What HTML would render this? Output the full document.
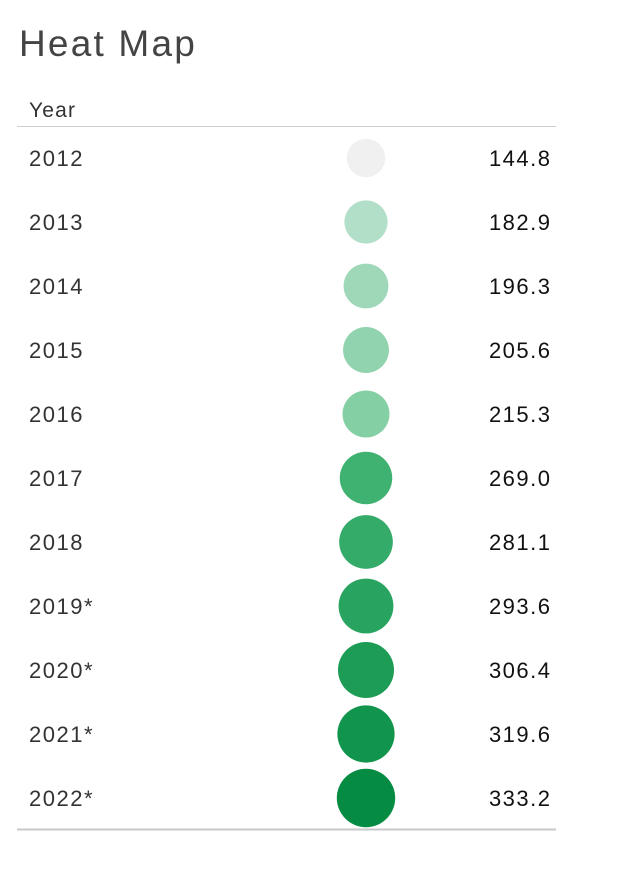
<!DOCTYPE html>
<html><head><meta charset="utf-8"><style>
html,body{margin:0;padding:0;background:#fff;width:644px;height:878px;overflow:hidden;font-family:"Liberation Sans",sans-serif;}
</style></head><body>
<svg width="644" height="878">
<text x="19" y="56" font-size="37" font-weight="300" fill="#444" font-family="Liberation Sans, sans-serif" style="letter-spacing:2.2px">Heat Map</text>
<text x="29" y="117" font-size="21" fill="#333" style="letter-spacing:1.2px">Year</text>
<line x1="17" x2="556" y1="126.5" y2="126.5" stroke="#cfcfcf" stroke-width="1"/>
<g id="rows"></g>
<line x1="17" x2="556" y1="829.5" y2="829.5" stroke="#c8c8c8" stroke-width="2"/>
</svg>
<script>
const years = ["2012","2013","2014","2015","2016","2017","2018","2019*","2020*","2021*","2022*"];
const values = [144.8,182.9,196.3,205.6,215.3,269.0,281.1,293.6,306.4,319.6,333.2];

const rowY = i => 158 + i*64;
const radius = v => 1.6*Math.sqrt(v);
const stops = [[0,[240,240,240]],[0.2,[179,223,200]],[0.37,[133,207,165]],[0.66,[63,178,114]],[1,[5,140,66]]];
function color(v){
  const mn=Math.min(...values), mx=Math.max(...values);
  const t=(v-mn)/(mx-mn);
  for(let k=1;k<stops.length;k++){
    if(t<=stops[k][0]){
      const a=stops[k-1],b=stops[k],u=(t-a[0])/(b[0]-a[0]);
      return 'rgb('+a[1].map((c,j)=>Math.round(c+(b[1][j]-c)*u)).join(',')+')';
    }
  }
  return 'rgb(5,140,66)';
}
const g=document.getElementById('rows');
const NS='http://www.w3.org/2000/svg';
years.forEach((y,i)=>{
  const cy=rowY(i);
  const t=document.createElementNS(NS,'text');
  t.setAttribute('x',29);t.setAttribute('y',cy+8);t.setAttribute('font-size','22');t.setAttribute('fill','#333');
  t.setAttribute('style','letter-spacing:1.5px');
  t.textContent=y;
  
  
  g.appendChild(t);
  const c=document.createElementNS(NS,'circle');
  c.setAttribute('cx',366);c.setAttribute('cy',cy);c.setAttribute('r',radius(values[i]));c.setAttribute('fill',color(values[i]));
  
  
  g.appendChild(c);
  const v=document.createElementNS(NS,'text');
  v.setAttribute('x',551.5);v.setAttribute('y',cy+8);v.setAttribute('font-size','22');v.setAttribute('fill','#111');v.setAttribute('text-anchor','end');
  v.setAttribute('style','letter-spacing:1.5px');
  v.textContent=values[i].toFixed(1);
  
  
  g.appendChild(v);
});
</script>
</body></html>
